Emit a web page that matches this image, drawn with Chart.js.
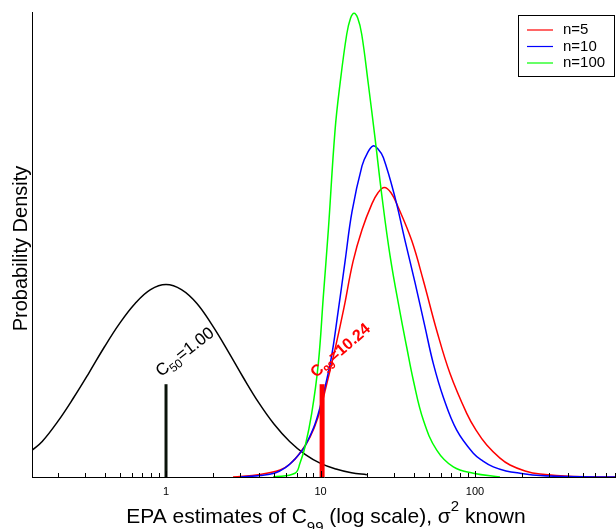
<!DOCTYPE html>
<html>
<head>
<meta charset="utf-8">
<script src="https://cdn.jsdelivr.net/npm/chart.js@4.4.1/dist/chart.umd.min.js"></script>
<style>
  html, body { margin: 0; padding: 0; background: #fff; }
</style>
</head>
<body>
<canvas id="chart" width="616" height="529"></canvas>
<script>
// Black curve: true distribution of concentrations
const trueX = [0.136, 0.158, 0.2, 0.251, 0.316, 0.398, 0.501, 0.631, 0.794, 1, 1.259, 1.585, 1.995, 2.512, 3.162, 3.981, 5.012, 6.31, 7.943, 10, 12.59, 15.85, 19.95];
const trueY = [0.128, 0.169, 0.266, 0.375, 0.494, 0.618, 0.732, 0.827, 0.893, 0.917, 0.893, 0.827, 0.722, 0.601, 0.474, 0.354, 0.251, 0.169, 0.108, 0.065, 0.038, 0.020, 0.011];

// n=5 (red)
const n5X = [2.716, 4.058, 5.47, 6.347, 7.366, 8.551, 9.634, 10.85, 12.41, 14.20, 16.23, 18.56, 21.54, 23.56, 25.88, 28.6, 31.89, 38.94, 46.29, 56.51, 68.9, 88.37, 101.5, 119.1, 145.1, 168.5, 210.7, 263.5, 432.7, 817.6];
const n5Y = [0, 0.012, 0.033, 0.062, 0.114, 0.190, 0.285, 0.428, 0.608, 0.808, 1.026, 1.178, 1.302, 1.354, 1.379, 1.354, 1.284, 1.126, 0.936, 0.698, 0.493, 0.303, 0.223, 0.152, 0.090, 0.057, 0.029, 0.014, 0.002, 0];

// n=10 (blue)
const n10X = [3.013, 4.058, 5.077, 5.891, 6.839, 7.366, 7.94, 9.213, 10.38, 11.70, 12.98, 14.41, 15.99, 18.56, 20.15, 21.87, 23.56, 25.5, 30.35, 35.24, 40.9, 47.48, 53.72, 62.35, 76.14, 97.5, 112.7, 131.3, 158.7, 195.6, 263.5, 392.3, 817.6];
const n10Y = [0, 0.007, 0.019, 0.043, 0.086, 0.114, 0.147, 0.252, 0.390, 0.561, 0.784, 1.026, 1.264, 1.482, 1.544, 1.577, 1.563, 1.522, 1.332, 1.126, 0.926, 0.714, 0.540, 0.380, 0.223, 0.113, 0.076, 0.048, 0.029, 0.018, 0.007, 0.002, 0];

// n=100 (green)
const n100X = [4.927, 6.839, 7.37, 7.94, 8.77, 9.678, 10.42, 11.23, 12.41, 13.37, 14.78, 15.64, 16.48, 17.43, 18.48, 20.39, 22.53, 24.9, 28.18, 32.71, 36.14, 39.87, 46.29, 56.51, 72.37, 97.5, 145.1];
const n100Y = [0, 0.018, 0.067, 0.144, 0.303, 0.540, 0.857, 1.174, 1.649, 1.872, 2.109, 2.185, 2.209, 2.185, 2.109, 1.872, 1.615, 1.345, 1.055, 0.784, 0.618, 0.461, 0.271, 0.128, 0.048, 0.018, 0];

const seriesLabels = ['n=5', 'n=10', 'n=100'];
const seriesColors = ['#ff0000', '#0000ff', '#00ff00'];

// marker lines
const c50 = 1.00;
const c99 = 10.24;
const markerHeight = 0.442;

// axis
const xMin = 0.1357, xMax = 817.6;
const yMax = 2.215;
const tickValues = [1, 10, 100];
const tickLabels = ['1', '10', '100'];
const decades = [-1, 0, 1, 2];

const FONT = "'Liberation Sans', Arial, Helvetica, sans-serif";

function pts(xs, ys) {
  return xs.map((v, i) => ({ x: v, y: ys[i] }));
}

function curve(label, xs, ys, color, order) {
  return {
    label, data: pts(xs, ys), borderColor: color, borderWidth: 1.5,
    pointRadius: 0, fill: false, tension: 0.4, order
  };
}

function marker(v, color, width) {
  return {
    label: '', data: [{ x: v, y: 0 }, { x: v, y: markerHeight }],
    borderColor: color, borderWidth: width, pointRadius: 0, tension: 0,
    borderCapStyle: 'butt', order: 0
  };
}

function drawRich(ctx, parts, x, y) {
  let cx = x;
  parts.forEach(p => {
    ctx.font = p.font;
    ctx.fillText(p.t, cx, y + (p.dy || 0));
    cx += ctx.measureText(p.t).width;
  });
}

function richWidth(ctx, parts) {
  return parts.reduce((w, p) => { ctx.font = p.font; return w + ctx.measureText(p.t).width; }, 0);
}

const overlay = {
  id: 'overlay',
  afterDatasetsDraw(chart) {
    const { ctx, chartArea: a, scales: { x, y } } = chart;
    ctx.save();

    // inward ticks on the x axis
    ctx.strokeStyle = '#000';
    ctx.lineWidth = 1;
    decades.forEach(d => {
      for (let m = 1; m <= 9; m++) {
        const v = m * Math.pow(10, d);
        if (v < x.min || v > x.max) continue;
        const px = Math.round(x.getPixelForValue(v)) + 0.5;
        const len = m === 1 ? 6 : 4;
        ctx.beginPath();
        ctx.moveTo(px, a.bottom);
        ctx.lineTo(px, a.bottom - len);
        ctx.stroke();
      }
    });

    // rotated marker labels
    const top = y.getPixelForValue(markerHeight);
    ctx.textBaseline = 'alphabetic';
    ctx.textAlign = 'left';

    ctx.save();
    ctx.translate(x.getPixelForValue(c50) - 5, top - 7);
    ctx.rotate(-38 * Math.PI / 180);
    ctx.fillStyle = '#000';
    drawRich(ctx, [
      { t: 'C', font: '17px ' + FONT },
      { t: '50', font: '12px ' + FONT, dy: 4 },
      { t: '=' + c50.toFixed(2), font: '17px ' + FONT }
    ], 0, 0);
    ctx.restore();

    ctx.save();
    ctx.translate(x.getPixelForValue(c99) - 6, top - 6);
    ctx.rotate(-41 * Math.PI / 180);
    ctx.fillStyle = '#ff0000';
    drawRich(ctx, [
      { t: 'C', font: 'bold 16px ' + FONT },
      { t: '99', font: 'bold 11px ' + FONT, dy: 4 },
      { t: '=' + c99.toFixed(2), font: 'bold 16px ' + FONT }
    ], 0, 0);
    ctx.restore();

    // legend box
    const lx = a.right - 98, ly = a.top + 3, lw = 97, lh = 62;
    ctx.fillStyle = '#fff';
    ctx.fillRect(lx, ly, lw, lh);
    ctx.strokeStyle = '#000';
    ctx.lineWidth = 1;
    ctx.strokeRect(lx + 0.5, ly + 0.5, lw - 1, lh - 1);
    ctx.font = '15px ' + FONT;
    ctx.textBaseline = 'middle';
    seriesLabels.forEach((t, i) => {
      const yy = ly + 15 + i * 16.5;
      ctx.strokeStyle = seriesColors[i];
      ctx.lineWidth = 1.2;
      ctx.beginPath();
      ctx.moveTo(lx + 9, yy);
      ctx.lineTo(lx + 35, yy);
      ctx.stroke();
      ctx.fillStyle = '#000';
      ctx.fillText(t, lx + 45, yy);
    });
    ctx.restore();
  },
  afterDraw(chart) {
    const { ctx, chartArea: a } = chart;
    ctx.save();
    ctx.fillStyle = '#000';
    ctx.textBaseline = 'alphabetic';
    ctx.textAlign = 'left';

    // x axis title with sub/superscripts
    const parts = [
      { t: 'EPA estimates of C', font: '21px ' + FONT },
      { t: '99', font: '15px ' + FONT, dy: 9 },
      { t: ' (log scale), \u03c3', font: '21px ' + FONT },
      { t: '2', font: '15px ' + FONT, dy: -12 },
      { t: ' known', font: '21px ' + FONT }
    ];
    const w = richWidth(ctx, parts);
    drawRich(ctx, parts, (a.left + a.right) / 2 + 2 - w / 2, 523);

    // y axis title
    ctx.save();
    ctx.translate(27, (a.top + a.bottom) / 2 + 4);
    ctx.rotate(-Math.PI / 2);
    ctx.textAlign = 'center';
    ctx.font = '20px ' + FONT;
    ctx.fillText('Probability Density', 0, 0);
    ctx.restore();

    ctx.restore();
  }
};

new Chart(document.getElementById('chart'), {
  type: 'line',
  data: {
    datasets: [
      marker(c50, '#0a140a', 3),
      marker(c99, '#ff0000', 5),
      curve(seriesLabels[2], n100X, n100Y, seriesColors[2], 1),
      curve(seriesLabels[1], n10X, n10Y, seriesColors[1], 2),
      curve(seriesLabels[0], n5X, n5Y, seriesColors[0], 3),
      curve('true', trueX, trueY, '#000000', 4)
    ]
  },
  options: {
    responsive: false,
    animation: false,
    devicePixelRatio: 1,
    layout: { padding: { top: 12, right: 0, left: 0, bottom: 0 } },
    plugins: { legend: { display: false }, tooltip: { enabled: false } },
    scales: {
      x: {
        type: 'logarithmic',
        min: xMin,
        max: xMax,
        grid: { display: false, drawTicks: false },
        border: { display: true, color: '#000', width: 1 },
        ticks: {
          autoSkip: false,
          maxRotation: 0,
          padding: 8,
          color: '#000',
          font: { family: FONT, size: 11 },
          callback: v => {
            const i = tickValues.findIndex(t => Math.abs(t - v) < 1e-9 * t);
            return i >= 0 ? tickLabels[i] : '';
          }
        },
        afterFit: s => { s.height = 52; s.paddingLeft = 0; s.paddingRight = 0; }
      },
      y: {
        type: 'linear',
        min: 0,
        max: yMax,
        grid: { display: false, drawTicks: false },
        border: { display: true, color: '#000', width: 1 },
        ticks: { display: false },
        afterFit: s => { s.width = 32; }
      }
    }
  },
  plugins: [overlay]
});
</script>
</body>
</html>
